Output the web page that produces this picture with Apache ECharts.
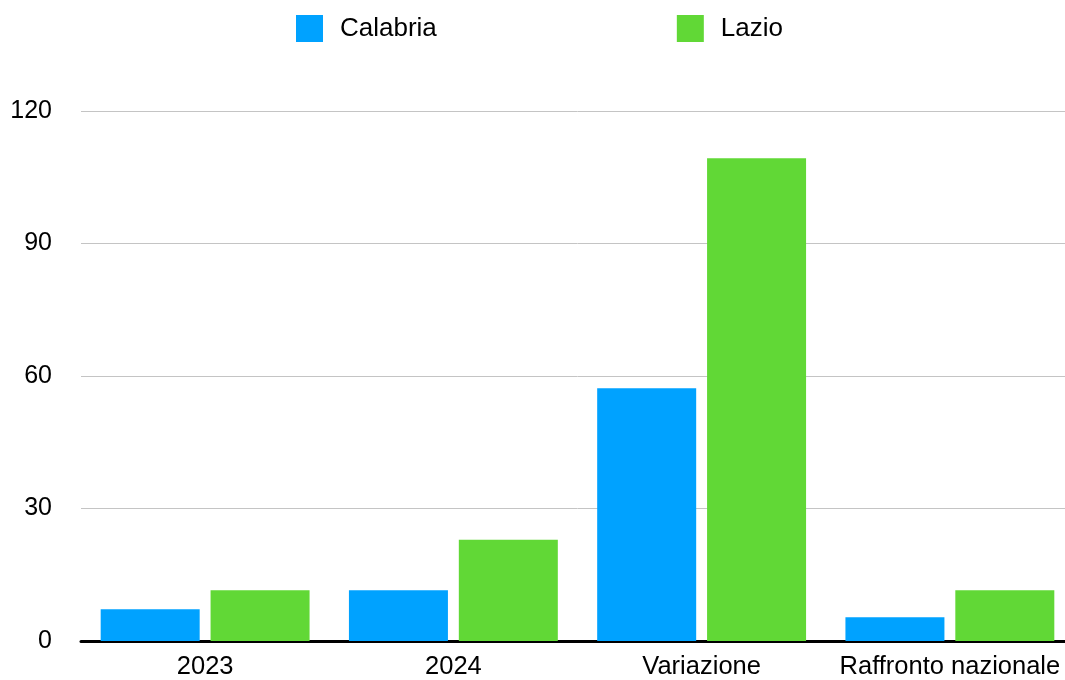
<!DOCTYPE html>
<html><head><meta charset="utf-8">
<script src="https://cdn.jsdelivr.net/npm/echarts@6/dist/echarts.min.js"></script>
<style>html,body{margin:0;padding:0;background:#fff;overflow:hidden}#c{width:1075px;height:680px}</style>
</head><body><div id="c"></div>
<script>
const categories = ['2023', '2024', 'Variazione', 'Raffronto nazionale'];
const seriesNames = ['Calabria', 'Lazio'];
const calabria = [7.2, 11.5, 57.2, 5.4];
const lazio = [11.5, 22.9, 109.3, 11.5];
const colors = ['#00A2FF', '#61D836'];
const FONT = '"Liberation Sans", Arial, Helvetica, sans-serif';

const chart = echarts.init(document.getElementById('c'), null, {renderer: 'canvas'});
chart.setOption({
  animation: false,
  color: colors,
  legend: {
    data: seriesNames,
    left: 291, top: 10,
    itemWidth: 27, itemHeight: 27, itemGap: 240,
    icon: 'rect',
    textStyle: {fontFamily: FONT, fontSize: 26, color: '#000', padding: [0, 0, 0, 12]}
  },
  grid: {left: 81, right: 1, top: 111, bottom: 38, containLabel: false},
  xAxis: {
    type: 'category', data: categories,
    axisLine: {lineStyle: {color: '#000', width: 3}},
    axisTick: {show: false},
    axisLabel: {fontFamily: FONT, fontSize: 25.5, color: '#000', margin: 13, interval: 0}
  },
  yAxis: {
    type: 'value', min: 0, max: 120, interval: 30,
    axisLine: {show: false}, axisTick: {show: false},
    splitLine: {lineStyle: {color: '#c4c4c4', width: 1}},
    axisLabel: {fontFamily: FONT, fontSize: 25, color: '#000', margin: 29}
  },
  series: [
    {name: seriesNames[0], type: 'bar', data: calabria, barWidth: 99, barGap: '11%'},
    {name: seriesNames[1], type: 'bar', data: lazio, barWidth: 99, barGap: '11%'}
  ]
});
</script></body></html>
